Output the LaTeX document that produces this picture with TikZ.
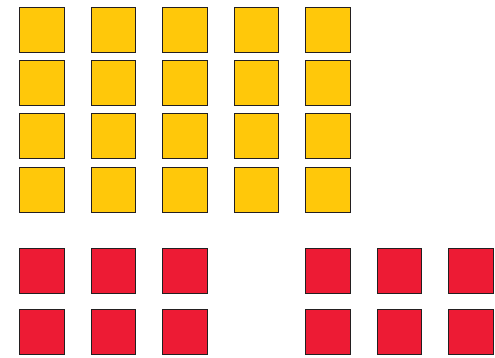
\documentclass[tikz,border=0pt]{standalone}
\definecolor{ylw}{HTML}{FFC80A}
\definecolor{rd}{HTML}{ED1B34}
\definecolor{edge}{HTML}{231F20}
\tikzset{
  sq/.style={draw=edge, line width=1pt, minimum size=44.8pt, inner sep=0pt, outer sep=0pt},
  ysq/.style={sq, fill=ylw},
  rsq/.style={sq, fill=rd}
}
\begin{document}
\begin{tikzpicture}[x=1pt,y=-1pt]
\useasboundingbox (0,0) rectangle (495,358);
\foreach \i in {0,...,4}{
  \foreach \j in {0,...,3}{
    \node[ysq] (y\i\j) at ({41.9+71.5*\i},{29.7+53.3*\j}) {};
  }
}
\foreach \i in {0,1,2,4,5,6}{
  \foreach \j/\yy in {0/271,1/332.3}{
    \node[rsq] (r\i\j) at ({41.9+71.5*\i},\yy) {};
  }
}
\end{tikzpicture}
\end{document}
